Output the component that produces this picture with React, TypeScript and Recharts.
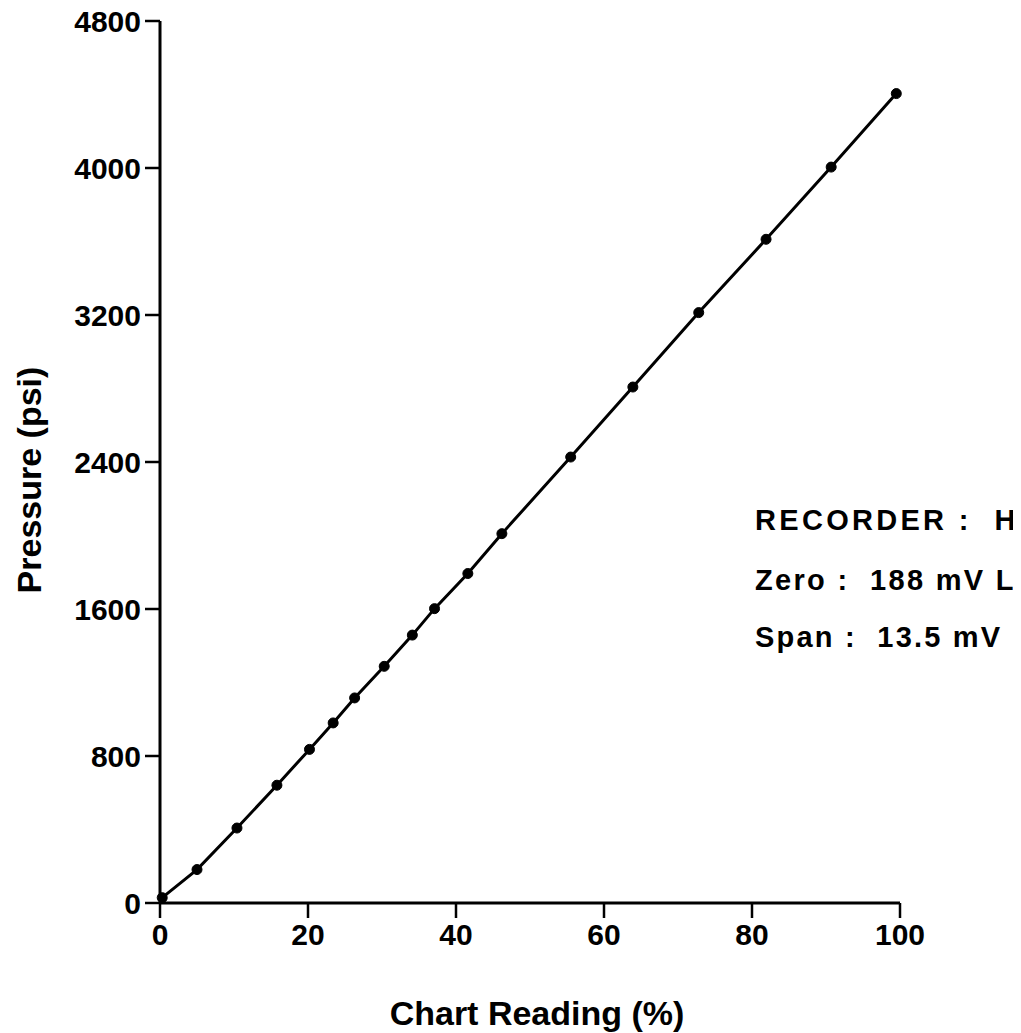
import React from 'react';
import { LineChart, Line, XAxis, YAxis } from 'recharts';

const chartReading: number[] = [0.3, 5.0, 10.4, 15.8, 20.2, 23.4, 26.3, 30.3, 34.1, 37.1, 41.6, 46.2, 55.5, 63.9, 72.8, 81.9, 90.7, 99.5];
const pressure: number[] = [29, 182, 408, 641, 836, 980, 1116, 1288, 1458, 1602, 1793, 2010, 2427, 2808, 3213, 3612, 4005, 4405];
const xTicks: number[] = [0, 20, 40, 60, 80, 100];
const yTicks: number[] = [0, 800, 1600, 2400, 3200, 4000, 4800];
const annotations: string[] = ['RECORDER :  H', 'Zero :  188 mV L', 'Span :  13.5 mV'];

const data = chartReading.map((x, i) => ({ x, y: pressure[i] }));

const FONT = '"Liberation Sans", Arial, Helvetica, sans-serif';

const tickStyle = { fill: '#000', fontSize: 30, fontWeight: 700, fontFamily: FONT };

export default function App() {
  return (
    <div style={{ position: 'relative', width: 1021, height: 1033, margin: '-8px 0 0 -8px', background: '#fff' }}>
      <LineChart width={1021} height={1033} data={data} margin={{ top: 21, right: 121, bottom: 10, left: 0 }}>
        <XAxis
          dataKey="x"
          type="number"
          domain={[0, 100]}
          ticks={xTicks}
          height={120}
          tickSize={15}
          tickMargin={6}
          axisLine={{ stroke: '#000', strokeWidth: 3 }}
          tickLine={{ stroke: '#000', strokeWidth: 2.5 }}
          tick={tickStyle}
          interval={0}
        />
        <YAxis
          dataKey="y"
          type="number"
          domain={[0, 4800]}
          ticks={yTicks}
          width={160}
          tickSize={15}
          tickMargin={4}
          axisLine={{ stroke: '#000', strokeWidth: 3 }}
          tickLine={{ stroke: '#000', strokeWidth: 2.5 }}
          tick={tickStyle}
          interval={0}
        />
        <Line
          type="linear"
          dataKey="y"
          stroke="#000"
          strokeWidth={3}
          dot={{ r: 5, fill: '#000', stroke: '#000', strokeWidth: 1 }}
          isAnimationActive={false}
        />
      </LineChart>
      <div
        style={{
          position: 'absolute', left: 537, top: 1013, transform: 'translate(-50%, -50%)',
          fontFamily: FONT, fontWeight: 700, fontSize: 34, whiteSpace: 'nowrap', lineHeight: 1, color: '#000',
        }}
      >
        Chart Reading (%)
      </div>
      <div
        style={{
          position: 'absolute', left: 29, top: 480, transform: 'translate(-50%, -50%) rotate(-90deg)',
          fontFamily: FONT, fontWeight: 700, fontSize: 34, whiteSpace: 'pre', lineHeight: 1, color: '#000',
        }}
      >
        Pressure (psi)
      </div>
      {annotations.map((t, i) => (
        <div
          key={i}
          style={{
            position: 'absolute', left: 755, top: [506, 566, 623][i],
            fontFamily: FONT, fontWeight: 700, fontSize: 29, letterSpacing: [3.3, 2.3, 2.2][i],
            whiteSpace: 'pre', lineHeight: 1, color: '#000',
          }}
        >
          {t}
        </div>
      ))}
    </div>
  );
}
